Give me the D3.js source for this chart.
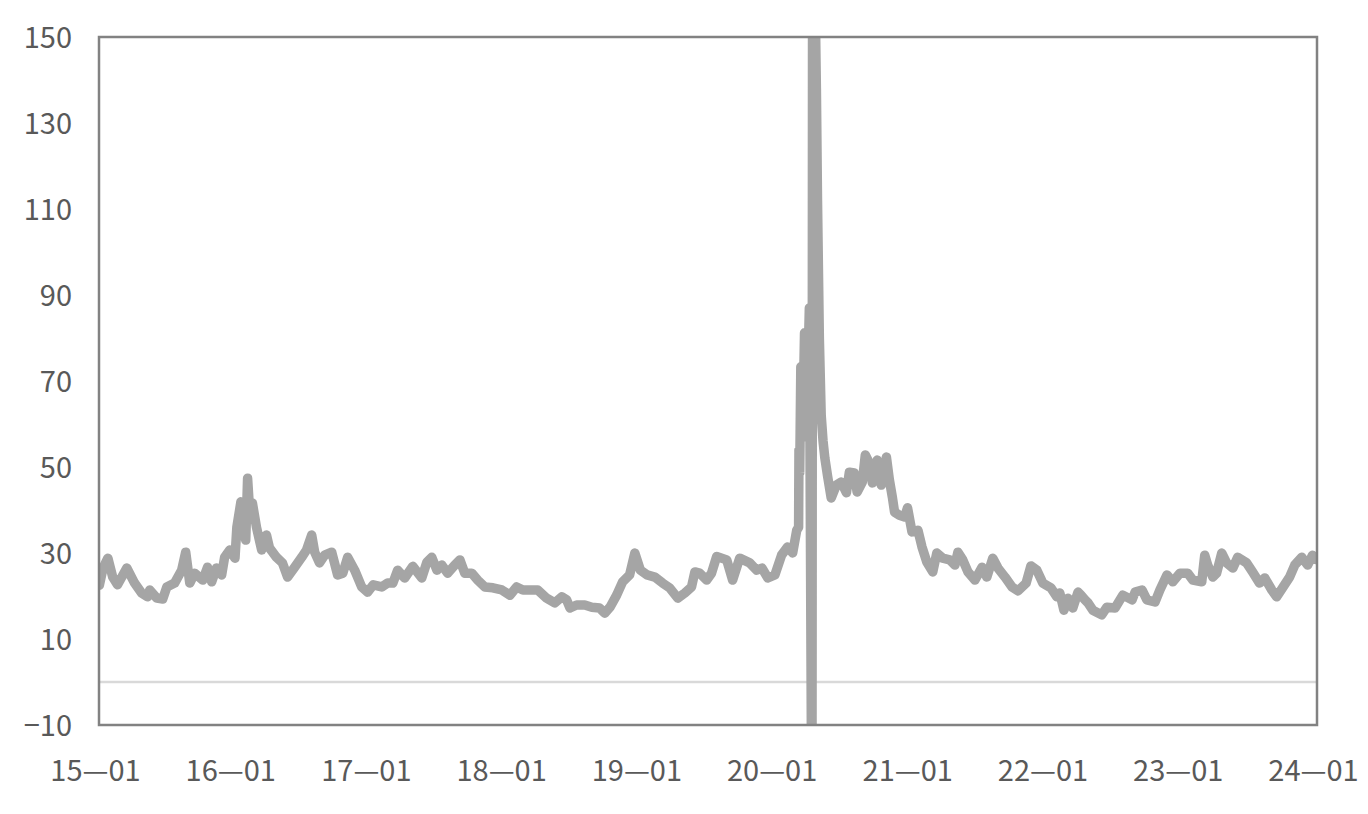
<!DOCTYPE html>
<html>
<head>
<meta charset="utf-8">
<script src="https://cdn.jsdelivr.net/npm/d3@7"></script>
<style>
  html, body { margin: 0; padding: 0; background: #ffffff; }
  svg { display: block; }
</style>
</head>
<body>
<svg id="chart" width="1368" height="814"></svg>
<script>
const yTickValues = [150, 130, 110, 90, 70, 50, 30, 10, -10];
const yTickLabels = ["150", "130", "110", "90", "70", "50", "30", "10", "−10"];
const xTickDates = ["2015-01-01","2016-01-01","2017-01-01","2018-01-01","2019-01-01","2020-01-01","2021-01-01","2022-01-01","2023-01-01","2024-01-01"];
const xTickLabels = ["15—01","16—01","17—01","18—01","19—01","20—01","21—01","22—01","23—01","24—01"];

const dates = [
"2015-01-02","2015-01-12","2015-01-25","2015-02-07","2015-02-20","2015-03-17","2015-04-07","2015-04-26","2015-05-12","2015-05-18","2015-06-06","2015-06-22","2015-07-03","2015-07-24","2015-08-12","2015-08-23","2015-09-03","2015-09-16","2015-10-08","2015-10-21","2015-11-01","2015-11-14","2015-11-28","2015-12-06","2015-12-20",
"2016-01-03","2016-01-08","2016-01-19","2016-01-24","2016-02-01","2016-02-06","2016-02-11","2016-02-19","2016-03-01","2016-03-15","2016-03-28","2016-04-05","2016-04-24","2016-05-10","2016-05-24","2016-06-12","2016-07-01","2016-07-14","2016-07-28","2016-08-05","2016-08-18","2016-09-01","2016-09-20","2016-10-06","2016-10-20","2016-11-02","2016-11-21","2016-12-10","2016-12-26",
"2017-01-10","2017-02-02","2017-02-18","2017-03-04","2017-03-17","2017-04-05","2017-04-27","2017-05-21","2017-06-04","2017-06-17","2017-07-01","2017-07-14","2017-07-30","2017-08-18","2017-09-01","2017-09-14","2017-10-03","2017-10-19","2017-11-07","2017-11-29","2017-12-23",
"2018-01-14","2018-02-01","2018-02-18","2018-03-14","2018-03-30","2018-04-23","2018-05-15","2018-06-03","2018-06-16","2018-06-25","2018-07-13","2018-08-04","2018-08-23","2018-09-13","2018-09-27","2018-10-11","2018-10-29","2018-11-14","2018-12-03","2018-12-17",
"2019-01-01","2019-01-19","2019-02-09","2019-03-02","2019-03-21","2019-04-12","2019-05-01","2019-05-19","2019-05-28","2019-06-10","2019-06-29","2019-07-12","2019-07-26","2019-08-22","2019-09-07","2019-09-26","2019-10-23","2019-11-11","2019-11-25","2019-12-11","2019-12-30",
"2020-01-17","2020-02-02","2020-02-16","2020-02-27","2020-03-03","2020-03-04","2020-03-06","2020-03-09","2020-03-14","2020-03-19","2020-03-24","2020-04-01","2020-04-08","2020-04-10","2020-04-20","2020-04-23","2020-04-28","2020-05-03","2020-05-08","2020-05-13","2020-05-20","2020-05-30","2020-06-13","2020-06-26","2020-07-10","2020-07-18","2020-07-31","2020-08-08","2020-08-22","2020-08-30","2020-09-10","2020-09-18","2020-10-01","2020-10-12","2020-10-26","2020-11-03","2020-11-11","2020-11-17","2020-11-30","2020-12-14","2020-12-22",
"2021-01-03","2021-01-19","2021-01-30","2021-02-12","2021-02-28","2021-03-11","2021-03-27","2021-04-15","2021-04-29","2021-05-07","2021-05-20","2021-06-03","2021-06-22","2021-07-11","2021-07-24","2021-08-09","2021-08-23","2021-09-11","2021-09-30","2021-10-16","2021-11-07","2021-11-20","2021-12-06","2021-12-22",
"2022-01-13","2022-01-29","2022-02-06","2022-02-17","2022-02-28","2022-03-13","2022-03-27","2022-04-04","2022-04-15","2022-04-23","2022-05-06","2022-05-30","2022-06-13","2022-07-05","2022-07-26","2022-08-20","2022-08-28","2022-09-16","2022-09-29","2022-10-21","2022-11-03","2022-11-22","2022-12-08","2022-12-27",
"2023-01-17","2023-01-31","2023-02-24","2023-03-04","2023-03-12","2023-03-26","2023-04-05","2023-04-19","2023-05-02","2023-05-19","2023-06-01","2023-06-25","2023-07-11","2023-07-30","2023-08-13","2023-09-01","2023-09-14","2023-09-30","2023-10-19","2023-11-02","2023-11-21","2023-12-07","2023-12-20","2023-12-28"
];

const values = [
22.5,26.5,28.8,24.4,22.6,26.5,23.0,20.7,19.8,21.4,19.5,19.3,22.1,23.0,26.0,30.2,23.0,25.3,23.7,26.7,23.3,26.5,24.9,29.0,30.7,
28.8,36.0,41.9,36.0,33.0,47.4,40.5,41.6,36.0,30.7,34.2,31.2,29.0,27.7,24.4,26.7,29.0,30.7,34.2,30.2,27.7,29.5,30.2,24.9,25.3,29.0,26.0,22.1,20.9,
22.6,22.1,23.0,23.0,26.0,24.2,26.9,24.2,27.9,29.0,26.0,27.2,25.3,27.2,28.4,25.3,25.3,23.7,22.1,21.9,21.4,
20.2,22.1,21.4,21.4,21.4,19.5,18.4,19.8,19.1,17.2,17.9,17.9,17.4,17.2,16.0,17.4,20.2,23.3,24.9,30.0,
26.0,24.9,24.4,23.0,21.9,19.5,20.7,22.1,25.6,25.3,23.7,25.3,29.2,28.4,23.7,28.8,27.7,26.0,26.5,24.2,24.9,
29.5,31.4,30.0,35.3,36.0,54.0,48.6,73.3,57.9,81.2,57.0,87.0,-40,200,138.0,112.0,80.0,62.0,56.0,52.0,48.0,42.8,45.8,46.5,44.0,48.8,48.6,44.2,46.5,52.8,50.9,46.3,51.6,45.8,52.3,47.0,43.0,39.5,38.8,38.4,40.5,
34.9,35.3,31.4,27.9,25.6,30.0,28.8,28.4,27.2,30.2,28.4,25.6,23.7,26.7,24.4,28.8,26.5,24.4,22.1,21.2,23.0,27.0,26.0,23.0,
21.9,19.8,20.7,16.7,19.5,17.2,20.9,20.2,19.1,18.4,16.7,15.6,17.4,17.2,20.2,19.1,20.9,21.4,19.1,18.6,21.4,24.9,23.3,25.3,
25.3,23.7,23.3,29.5,27.2,24.4,25.3,30.0,27.7,26.5,29.0,27.7,25.6,23.0,24.2,21.4,19.8,21.9,24.4,27.2,29.0,27.2,29.5,28.5
];

const parse = d3.timeParse("%Y-%m-%d");
const data = dates.map((d, i) => ({ date: parse(d), value: values[i] }));

const L = 99, R = 1317, T = 37, B = 725;

const svg = d3.select("#chart");

const x = d3.scaleTime()
  .domain([parse("2015-01-01"), parse("2024-01-01")])
  .range([L, R]);
const y = d3.scaleLinear().domain([-10, 150]).range([B, T]);

svg.append("defs").append("clipPath").attr("id", "plotclip")
  .append("rect").attr("x", L).attr("y", T).attr("width", R - L).attr("height", B - T);

// zero line
svg.append("line")
  .attr("x1", L).attr("x2", R)
  .attr("y1", y(0)).attr("y2", y(0))
  .attr("stroke", "#d9d9d9").attr("stroke-width", 2.5);

// series line
const line = d3.line().x(d => x(d.date)).y(d => y(d.value));
svg.append("path")
  .datum(data)
  .attr("clip-path", "url(#plotclip)")
  .attr("d", line)
  .attr("fill", "none")
  .attr("stroke", "#a5a5a5")
  .attr("stroke-width", 9.5)
  .attr("stroke-linejoin", "round")
  .attr("stroke-linecap", "round");

// frame
svg.append("rect")
  .attr("x", L).attr("y", T).attr("width", R - L).attr("height", B - T)
  .attr("fill", "none").attr("stroke", "#828282").attr("stroke-width", 2.5);

const font = "'Noto Sans CJK JP', 'Noto Sans', sans-serif";

// y axis
const yAxis = d3.axisLeft(y)
  .tickValues(yTickValues)
  .tickFormat((d, i) => yTickLabels[i])
  .tickSize(0)
  .tickPadding(27);
const gy = svg.append("g").attr("transform", `translate(${L},1)`).call(yAxis);
gy.select(".domain").remove();
gy.selectAll("text")
  .attr("font-family", font).attr("font-size", 29).attr("fill", "#595959");

// x axis
const xAxis = d3.axisBottom(x)
  .tickValues(xTickDates.map(parse))
  .tickFormat((d, i) => xTickLabels[i])
  .tickSize(0)
  .tickPadding(35);
const gx = svg.append("g").attr("transform", `translate(-4,${B})`).call(xAxis);
gx.select(".domain").remove();
gx.selectAll("text")
  .attr("font-family", font).attr("font-size", 29).attr("fill", "#595959");
</script>
</body>
</html>
